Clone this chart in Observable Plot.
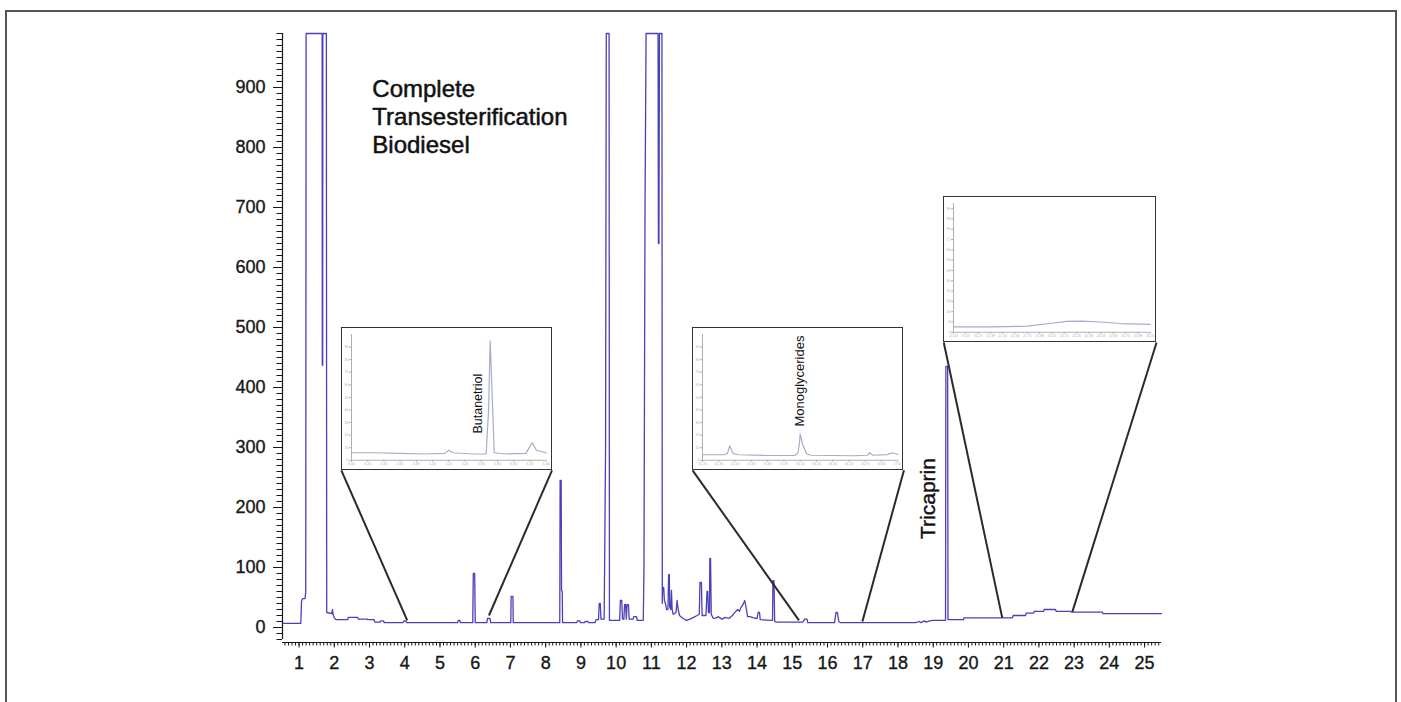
<!DOCTYPE html>
<html><head><meta charset="utf-8">
<script src="https://cdn.jsdelivr.net/npm/d3@7"></script>
<script src="https://cdn.jsdelivr.net/npm/@observablehq/plot@0.6"></script>
<style>
html,body{margin:0;padding:0;background:#fff;overflow:hidden;}
#wrap{position:relative;width:1401px;height:702px;overflow:hidden;}
#border{position:absolute;left:5px;top:10px;width:1392px;height:720px;border:2px solid #555;box-sizing:border-box;}
#wrap > svg{position:absolute;left:0;top:0;}
.inset{position:absolute;background:#fff;border:1.5px solid #333;box-sizing:border-box;}
.inset svg{display:block;}
</style></head><body><div id="wrap"><div id="border"></div></div>
<script>
// ---- main chromatogram (retention time in min, detector signal) ----
const traceTime = [0.55,1.05,1.07,1.10,1.17,1.19,1.20,1.655,1.66,1.67,1.675,1.775,1.785,1.93,1.95,1.965,2.0,2.05,2.38,2.40,2.66,2.68,2.93,2.95,3.13,3.15,3.30,3.32,3.40,3.42,3.95,3.98,4.03,4.05,5.50,5.52,5.56,5.58,5.93,5.945,5.985,6.00,6.33,6.35,6.42,6.44,7.01,7.02,7.07,7.08,8.40,8.41,8.44,8.45,8.47,8.48,8.88,8.90,8.97,8.99,9.10,9.12,9.20,9.22,9.40,9.43,9.50,9.52,9.55,9.57,9.66,9.68,9.70,9.72,9.80,9.81,10.10,10.12,10.16,10.18,10.22,10.24,10.27,10.29,10.31,10.35,10.37,10.48,10.50,10.58,10.60,10.77,10.79,10.82,10.85,11.19,11.20,11.215,11.23,11.30,11.31,11.32,11.35,11.37,11.40,11.43,11.47,11.49,11.51,11.52,11.55,11.57,11.59,11.62,11.70,11.73,11.76,11.80,11.90,12.00,12.10,12.20,12.30,12.36,12.38,12.42,12.44,12.55,12.58,12.60,12.62,12.65,12.66,12.68,12.70,12.75,12.80,12.90,13.00,13.10,13.20,13.30,13.35,13.45,13.50,13.55,13.60,13.65,13.70,13.73,13.80,13.90,14.00,14.03,14.07,14.09,14.44,14.45,14.48,14.50,14.55,15.30,15.35,15.42,15.44,16.20,16.24,16.28,16.32,16.37,18.50,18.60,18.65,18.75,18.80,18.90,19.00,19.35,19.36,19.41,19.42,19.86,19.87,21.25,21.27,21.62,21.64,21.85,21.87,22.13,22.15,22.47,22.49,22.90,22.92,23.80,23.82,25.48];
const traceSignal = [7,7,44,48,48,60,990,990,437,437,990,990,25,23,30,22,16,13,13,17,17,14,14,13,13,9,9,11,11,8,8,11,11,8,8,12,12,8,8,90,90,8,8,15,15,8,8,52,52,8,8,245,245,62,60,8,8,11,11,8,8,10,10,8,8,13,13,40,40,14,14,150,300,990,990,12,12,45,45,14,14,38,38,14,38,38,14,14,18,18,12,12,95,700,990,990,640,640,990,990,40,67,67,45,40,30,30,88,88,35,30,62,30,22,25,45,30,20,15,12,14,17,20,22,75,75,20,20,60,60,25,25,115,115,22,16,15,18,14,17,15,20,24,30,27,34,38,45,30,18,18,16,15,25,25,13,12,78,78,10,9,9,14,14,8,8,25,25,10,8,8,10,8,11,9,11,12,12,435,435,13,13,16,16,20,20,24,24,27,27,30,30,27,27,25.5,25.5,23,23];

const yMajorTicks = [0,100,200,300,400,500,600,700,800,900];
const yMinorTicks = d3.range(-20, 991, 10);
const xMajorTicks = [1,2,3,4,5,6,7,8,9,10,11,12,13,14,15,16,17,18,19,20,21,22,23,24,25];
const xMinorTicks = d3.range(6, 255, 1).map(d => d / 10);

// ---- inset traces ----
const inset1Time = [4.0,4.3,4.6,4.9,5.15,5.2,5.25,5.5,5.66,5.69,5.71,5.735,5.76,5.9,6.15,6.2,6.23,6.28,6.4];
const inset1Signal = [6,6,5.5,5,5.5,8,6,5,5,40,95,50,6,5,5.5,11,14,8,6];
const inset2Time = [15.2,15.4,15.43,15.45,15.48,15.53,15.8,16.05,16.08,16.095,16.1,16.11,16.125,16.16,16.2,16.6,16.72,16.74,16.77,16.9,16.95,17.0];
const inset2Signal = [4.4,4.4,5.5,11.5,5.5,4.4,3.8,3.8,6,15,21,17,12,5,4,3.6,4,6,4,4.5,6,4.6];
const inset3Time = [21.0,21.4,21.75,22.0,22.15,22.3,22.5,22.7,23.0];
const inset3Signal = [4.2,4.2,4.8,7,8.5,8.7,8,6.8,6.2];

const inset1XTicks = [4.0,4.2,4.4,4.6,4.8,5.0,5.2,5.4,5.6,5.8,6.0,6.2,6.4];
const inset2XTicks = [15.2,15.35,15.5,15.65,15.8,15.95,16.1,16.25,16.4,16.55,16.7,16.85,17.0];
const inset3XTicks = [21.0,21.125,21.25,21.375,21.5,21.625,21.75,21.875,22.0,22.125,22.25,22.375,22.5,22.625,22.75,22.875,23.0];
const insetYTicks = [0,10,20,30,40,50,60,70,80,90];
const inset3YTicks = [0,8,16,24,32,40,48,56,64,72,80,88,96];

const annotationTitle = "Complete\nTransesterification\nBiodiesel";
const peakLabels = ["Tricaprin", "Butanetriol", "Monoglycerides"];

// ---- layout ----
const xDomain = [0.53, 25.48];
const yDomain = [-25, 990];
const insetBoxes = [
  {t1: 2.2, t2: 8.18, v1: 262, v2: 500},
  {t1: 12.17, t2: 18.17, v1: 262, v2: 500},
  {t1: 19.3, t2: 25.34, v1: 475, v2: 718}
];
const linkTargets = [[4.07, 12], [6.39, 20], [15.19, 12], [16.99, 10], [20.96, 16], [22.95, 26]];

const trace = traceTime.map((t, i) => ({t, v: traceSignal[i]}));
const links = [];
insetBoxes.forEach((b, i) => {
  links.push({x1: b.t1, y1: b.v1, x2: linkTargets[2*i][0], y2: linkTargets[2*i][1]});
  links.push({x1: b.t2, y1: b.v1, x2: linkTargets[2*i+1][0], y2: linkTargets[2*i+1][1]});
});

const FONT = "'Liberation Sans', Arial, Helvetica, sans-serif";
const ink = "#161616";

const chart = Plot.plot({
  width: 1401, height: 702,
  marginLeft: 282, marginRight: 240, marginTop: 33, marginBottom: 60,
  x: {domain: xDomain},
  y: {domain: yDomain},
  style: {fontFamily: FONT, color: ink, background: "transparent"},
  marks: [
    Plot.ruleX([xDomain[0]], {y1: -20, y2: yDomain[1], stroke: ink, strokeWidth: 1.2}),
    Plot.axisY(yMinorTicks, {tickSize: 5.5, tickFormat: () => "", label: null, stroke: ink}),
    Plot.axisY(yMajorTicks, {tickSize: 9, tickPadding: 8, fontSize: 18, label: null, stroke: ink, textStroke: ink, textStrokeWidth: 0.35}),
    Plot.ruleY([yDomain[0]], {stroke: ink, strokeWidth: 1}),
    Plot.axisX(xMinorTicks, {tickSize: 3.5, tickFormat: () => "", label: null, stroke: ink}),
    Plot.axisX(xMajorTicks, {tickSize: 5.5, tickPadding: 8, fontSize: 18, label: null, stroke: ink, textStroke: ink, textStrokeWidth: 0.35}),
    Plot.line(trace, {x: "t", y: "v", stroke: "#4b40b8", strokeWidth: 1.3}),
    Plot.link(links, {x1: "x1", y1: "y1", x2: "x2", y2: "y2", stroke: "#2a2a2a", strokeWidth: 2}),
    Plot.text([annotationTitle], {x: 3.08, y: 917, text: d => d, textAnchor: "start", lineAnchor: "top", lineHeight: 1.17, fontSize: 24, fill: "#111", stroke: "#111", strokeWidth: 0.5}),
    Plot.text([peakLabels[0]], {x: 18.87, y: 215, text: d => d, rotate: -90, textAnchor: "middle", fontSize: 21, fill: "#111", stroke: "#111", strokeWidth: 0.4})
  ]
});
const wrap = document.getElementById("wrap");
wrap.appendChild(chart);

const xs = chart.scale("x"), ys = chart.scale("y");

function makeInset(box, time, signal, xTicks, yTicks, xDom, label, labelAt, labelSize) {
  const left = xs.apply(box.t1), right = xs.apply(box.t2);
  const top = ys.apply(box.v2), bottom = ys.apply(box.v1);
  const w = right - left, h = bottom - top;
  const div = document.createElement("div");
  div.className = "inset";
  div.style.left = left + "px"; div.style.top = top + "px";
  div.style.width = w + "px"; div.style.height = h + "px";
  const data = time.map((t, i) => ({t, v: signal[i]}));
  const marks = [
    Plot.ruleX([xDom[0]], {stroke: "#b0b0b0", strokeWidth: 1}),
    Plot.ruleY([0], {stroke: "#b0b0b0", strokeWidth: 1}),
    Plot.axisY(yTicks, {tickSize: 2, tickPadding: 1, fontSize: 3.5, fill: "#b0b0b0", stroke: "#b0b0b0", label: null}),
    Plot.axisX(xTicks, {tickSize: 2, tickPadding: 0.5, fontSize: 3.5, fill: "#b0b0b0", stroke: "#b0b0b0", label: null, tickFormat: d3.format(".2f")}),
    Plot.line(data, {x: "t", y: "v", stroke: "#aaaac8", strokeWidth: 1.2})
  ];
  if (label) marks.push(Plot.text([label], {x: labelAt[0], y: labelAt[1], text: d => d, rotate: -90, textAnchor: "middle", fontSize: labelSize, fill: "#111"}));
  const p = Plot.plot({
    width: w - 3, height: h - 3,
    marginLeft: 9, marginRight: 4, marginTop: 6, marginBottom: 8,
    x: {domain: xDom}, y: {domain: [0, 100]},
    style: {fontFamily: FONT, background: "transparent"},
    marks
  });
  div.appendChild(p);
  wrap.appendChild(div);
}

makeInset(insetBoxes[0], inset1Time, inset1Signal, inset1XTicks, insetYTicks, [4.0, 6.4], peakLabels[1], [5.555, 45], 12.5);
makeInset(insetBoxes[1], inset2Time, inset2Signal, inset2XTicks, insetYTicks, [15.2, 17.0], peakLabels[2], [16.1, 63], 13);
makeInset(insetBoxes[2], inset3Time, inset3Signal, inset3XTicks, inset3YTicks, [21.0, 23.0], null, null, 12);
</script></body></html>
